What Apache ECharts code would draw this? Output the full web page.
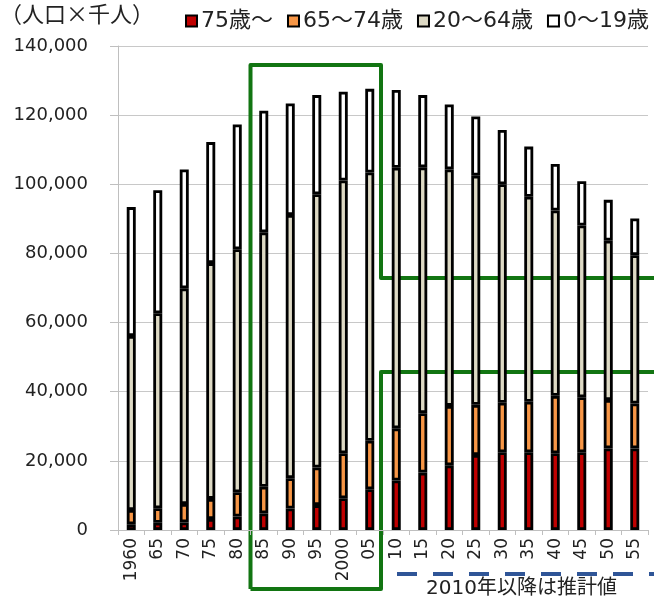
<!DOCTYPE html>
<html>
<head>
<meta charset="utf-8">
<script src="https://cdn.jsdelivr.net/npm/echarts@6/dist/echarts.min.js"></script>
<style>
  html, body { margin: 0; padding: 0; background: #fff; }
  #chart { width: 654px; height: 600px; }
</style>
</head>
<body>
<div id="chart"></div>
<script>
// Population by age group (thousands of people), census years and projections
const years = ['1960','65','70','75','80','85','90','95','2000','05','10','15','20','25','30','35','40','45','50','55'];
const age75plus = [1650,2100,2200,3200,3900,4800,6200,7200,9200,11800,14300,16600,18700,21700,22500,22500,22200,22500,23600,23600];
const age65to74 = [4150,4200,5300,5800,7000,7700,8800,10900,13000,14000,15100,17200,17200,14500,14300,14600,16600,15900,14000,13000];
const age20to64 = [50300,56400,62400,68200,70300,73600,76100,79000,78900,77600,75400,71100,68400,66300,63200,59300,53600,49700,46100,42900];
const age0to19 = [37300,35600,34400,35000,36100,35200,32300,28700,25700,24200,22500,20900,18800,17100,15700,14500,13500,12800,11800,10600];
const seriesNames = ['75歳～','65～74歳','20～64歳','0～19歳'];
const yTicks = { min: 0, max: 140000, interval: 20000 };

// Reference levels highlighted with green frames
const frameTop = 134500;
const levelUpper = 72900;
const levelLower = 45700;

const FONT = "'DejaVu Sans', 'Noto Sans CJK JP', sans-serif";
const CJK = "'Noto Sans CJK JP', sans-serif";
const colors = ['#C00000', '#F79646', '#DDD9C4', '#FFFFFF'];
const dataSets = [age75plus, age65to74, age20to64, age0to19];

const chart = echarts.init(document.getElementById('chart'), null, { renderer: 'canvas' });

const series = dataSets.map((d, i) => ({
  name: seriesNames[i],
  type: 'bar',
  stack: 'pop',
  data: d,
  barWidth: 9,
  itemStyle: { color: colors[i], borderColor: '#000', borderWidth: 2.8 },
  emphasis: { disabled: true }
}));

chart.setOption({
  animation: false,
  textStyle: { fontFamily: FONT },
  grid: { left: 118, right: 6, top: 46, bottom: 70 },
  legend: {
    left: 180, top: 5, width: 560,
    itemWidth: 11, itemHeight: 11, itemGap: 14,
    icon: 'rect',
    textStyle: { fontFamily: FONT, fontSize: 22, color: '#222', padding: [0, 0, 0, -1] },
    data: seriesNames
  },
  xAxis: {
    type: 'category',
    data: years,
    axisLine: { lineStyle: { color: '#BFBFBF', width: 1 } },
    axisTick: { show: true, alignWithLabel: false, length: 5, lineStyle: { color: '#BFBFBF' } },
    axisLabel: { rotate: 90, fontSize: 17, color: '#222', margin: 8, fontFamily: FONT, interval: 0 }
  },
  yAxis: {
    type: 'value',
    min: yTicks.min, max: yTicks.max, interval: yTicks.interval,
    axisLine: { show: true, lineStyle: { color: '#BFBFBF', width: 1 } },
    axisTick: { show: true, length: 8, lineStyle: { color: '#BFBFBF' } },
    splitLine: { lineStyle: { color: '#C8C8C8', width: 1 } },
    axisLabel: {
      fontSize: 18, color: '#222', margin: 30, fontFamily: FONT,
      formatter: v => v.toLocaleString('en-US')
    }
  },
  series: series
});

// Frames and projection marker, placed from the chart's own scales
function px(cat, val) { return chart.convertToPixel({ xAxisIndex: 0, yAxisIndex: 0 }, [cat, val]); }
const c4 = px(4, 0), c5 = px(5, 0), c9 = px(9, 0), c10 = px(10, 0);
const xLeft = (c4[0] + c5[0]) / 2;
const xRight = (c9[0] + c10[0]) / 2 - 2;
const yZero = c4[1];
const yTop = px(0, frameTop)[1];
const yUp = px(0, levelUpper)[1];
const yLow = px(0, levelLower)[1];
const yBottom = yZero + 59;
const W = 654;
const green = '#127512';

chart.setOption({
  graphic: [
    {
      type: 'polyline', silent: true,
      shape: { points: [[xLeft, yBottom], [xLeft, yTop], [xRight, yTop], [xRight, yUp], [W + 4, yUp]] },
      style: { stroke: green, lineWidth: 4, fill: null, lineJoin: 'round' }
    },
    {
      type: 'polyline', silent: true,
      shape: { points: [[W + 4, yLow], [xRight, yLow], [xRight, yBottom], [xLeft, yBottom]] },
      style: { stroke: green, lineWidth: 4, fill: null, lineJoin: 'round' }
    },
    {
      type: 'line', silent: true,
      shape: { x1: xRight + 16, y1: yZero + 44, x2: W + 4, y2: yZero + 44 },
      style: { stroke: '#2F5597', lineWidth: 4, lineDash: [20, 16] }
    },
    {
      type: 'text', silent: true,
      left: 426, top: 579,
      style: { text: '2010年以降は推計値', font: '20px ' + FONT, fill: '#222' }
    },
    {
      type: 'text', silent: true,
      left: 0, top: 3,
      style: { text: '（人口×千人）', font: '22px ' + CJK, fill: '#222' }
    }
  ]
});
</script>
</body>
</html>
